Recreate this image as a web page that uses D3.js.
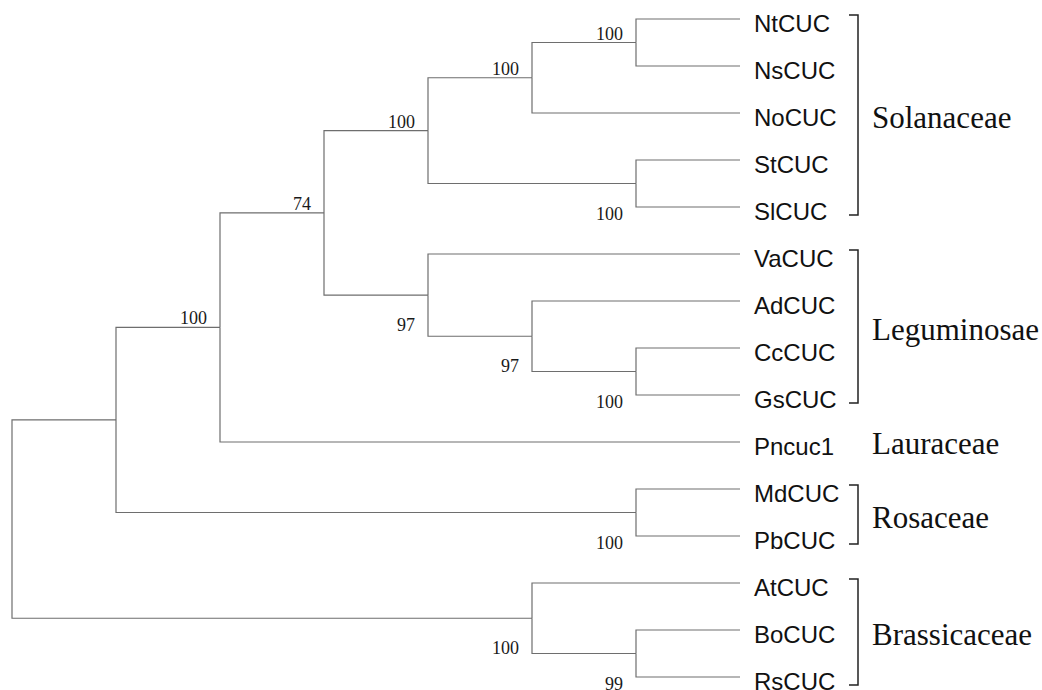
<!DOCTYPE html>
<meta charset="utf-8">
<script src="https://d3js.org/d3.v7.js"></script>
<style>
  body { margin: 0; background: #fff; }
</style>
<div id="my_dataviz"></div>
<script>

// tree topology with bootstrap support (null = no value shown)
const tree = {support: null, children: [
  {support: null, children: [
    {support: 100, children: [
      {support: 74, children: [
        {support: 100, children: [
          {support: 100, children: [
            {support: 100, children: [{name: "NtCUC"}, {name: "NsCUC"}]},
            {name: "NoCUC"}]},
          {support: 100, children: [{name: "StCUC"}, {name: "SlCUC"}]}]},
        {support: 97, children: [
          {name: "VaCUC"},
          {support: 97, children: [
            {name: "AdCUC"},
            {support: 100, children: [{name: "CcCUC"}, {name: "GsCUC"}]}]}]}]},
      {name: "Pncuc1"}]},
    {support: 100, children: [{name: "MdCUC"}, {name: "PbCUC"}]}]},
  {support: 100, children: [
    {name: "AtCUC"},
    {support: 99, children: [{name: "BoCUC"}, {name: "RsCUC"}]}]}
]};

// families: first and last member, and whether a bracket is drawn
const families = ["Solanaceae", "Leguminosae", "Lauraceae", "Rosaceae", "Brassicaceae"];
const familyFirst = ["NtCUC", "VaCUC", "Pncuc1", "MdCUC", "AtCUC"];
const familyLast  = ["SlCUC", "GsCUC", "Pncuc1", "PbCUC", "RsCUC"];
const familyBracket = [true, true, false, true, true];

const width = 1042, height = 690;

const svg = d3.select("#my_dataviz")
  .append("svg")
    .attr("width", width)
    .attr("height", height);

const root = d3.hierarchy(tree);
const nLeaves = root.leaves().length;
const maxDepth = root.height;

// cluster: leaves on one column, internal nodes placed by height
d3.cluster()
  .separation(() => 1)
  .size([nLeaves, maxDepth])(root);

const x = d3.scaleLinear().domain([0, maxDepth]).range([12, 740]);
const y = d3.scaleLinear().domain([0.5, nLeaves - 0.5]).range([19, 677]);

// branches (elbow shape)
svg.append("g")
  .selectAll("path")
  .data(root.links())
  .join("path")
    .attr("d", d => `M${x(d.source.y)},${y(d.source.x)}V${y(d.target.x)}H${x(d.target.y)}`)
    .attr("fill", "none")
    .attr("stroke", "#6e6e6e")
    .attr("stroke-width", 1.2);

// bootstrap values: above the branch for the upper child, below for the lower one
svg.append("g")
  .selectAll("text")
  .data(root.descendants().filter(d => d.data.support != null))
  .join("text")
    .attr("x", d => x(d.y) - 13)
    .attr("y", d => d.parent.children[0] === d ? y(d.x) - 3 : y(d.x) + 36)
    .attr("text-anchor", "end")
    .style("font-family", "'Liberation Serif', 'Times New Roman', serif")
    .style("font-size", "18px")
    .style("fill", "#1a1a1a")
    .text(d => d.data.support);

// leaf labels
const leafY = {};
root.leaves().forEach(d => { leafY[d.data.name] = y(d.x); });

svg.append("g")
  .selectAll("text")
  .data(root.leaves())
  .join("text")
    .attr("x", 754)
    .attr("y", d => y(d.x) + 12.5)
    .style("font-family", "'Liberation Sans', Arial, sans-serif")
    .style("font-size", "24px")
    .style("fill", "#111")
    .text(d => d.data.name);

// family brackets and names
const fam = families.map((name, i) => ({
  name: name,
  top: leafY[familyFirst[i]],
  bottom: leafY[familyLast[i]],
  bracket: familyBracket[i]
}));

const bx = 858;
svg.append("g")
  .selectAll("path")
  .data(fam.filter(d => d.bracket))
  .join("path")
    .attr("d", d => `M${bx - 9},${d.top - 4}H${bx}V${d.bottom + 8}H${bx - 9}`)
    .attr("fill", "none")
    .attr("stroke", "#222")
    .attr("stroke-width", 1.5);

svg.append("g")
  .selectAll("text")
  .data(fam)
  .join("text")
    .attr("x", 872)
    .attr("y", d => (d.top + d.bottom) / 2 + (d.bracket ? 15 : 12))
    .style("font-family", "'Liberation Serif', 'Times New Roman', serif")
    .style("font-size", "31px")
    .style("fill", "#111")
    .text(d => d.name);

</script>
